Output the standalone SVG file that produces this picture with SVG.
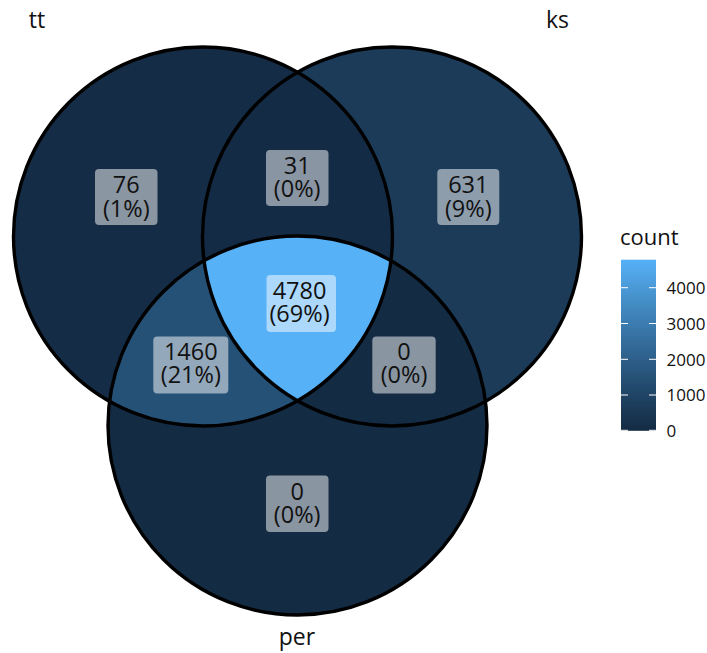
<svg xmlns="http://www.w3.org/2000/svg" width="707" height="653" viewBox="0 0 707 653">
  <style>
    .lbl { font-family: "Open Sans", "Noto Sans", "DejaVu Sans", sans-serif; font-size: 23.5px; fill: #111; text-anchor: middle; }
    .set { font-family: "Open Sans", "Noto Sans", "DejaVu Sans", sans-serif; font-size: 23px; fill: #111; text-anchor: middle; }
    .box { fill: #ffffff; fill-opacity: 0.5; }
    .edge { fill: none; stroke: #000; stroke-width: 3.4; }
    .tick { stroke: #ffffff; stroke-width: 1; }
    .leg { font-family: "Open Sans", "Noto Sans", "DejaVu Sans", sans-serif; font-size: 17px; fill: #111; }
    .legt { font-family: "Open Sans", "Noto Sans", "DejaVu Sans", sans-serif; font-size: 22px; fill: #111; }
  </style>
  <defs>
    <clipPath id="cTT"><circle cx="203" cy="236.5" r="189.5"/></clipPath>
    <clipPath id="cKS"><circle cx="392" cy="236.5" r="189.5"/></clipPath>
    <linearGradient id="grad" x1="0" y1="1" x2="0" y2="0">
      <stop offset="0" stop-color="#132B43"/>
      <stop offset="0.25" stop-color="#22496C"/>
      <stop offset="0.5" stop-color="#336A98"/>
      <stop offset="0.75" stop-color="#448DC6"/>
      <stop offset="1" stop-color="#56B1F7"/>
    </linearGradient>
  </defs>
  <rect width="707" height="653" fill="#ffffff"/>

  <g id="regions">
    <circle id="r-tt" cx="203" cy="236.5" r="189.5" fill="#142C45"/>
    <circle id="r-ks" cx="392" cy="236.5" r="189.5" fill="#1B3B58"/>
    <circle id="r-per" cx="297.5" cy="425.5" r="189.5" fill="#132B43"/>
    <circle id="r-tt-ks" cx="392" cy="236.5" r="189.5" fill="#132B44" clip-path="url(#cTT)"/>
    <circle id="r-tt-per" cx="297.5" cy="425.5" r="189.5" fill="#265176" clip-path="url(#cTT)"/>
    <circle id="r-ks-per" cx="297.5" cy="425.5" r="189.5" fill="#132B43" clip-path="url(#cKS)"/>
    <g clip-path="url(#cKS)">
      <circle id="r-all" cx="297.5" cy="425.5" r="189.5" fill="#56B1F7" clip-path="url(#cTT)"/>
    </g>
  </g>

  <g id="edges">
    <circle id="tt" class="edge" cx="203" cy="236.5" r="189.5"/>
    <circle id="ks" class="edge" cx="392" cy="236.5" r="189.5"/>
    <circle id="per" class="edge" cx="297.5" cy="425.5" r="189.5"/>
  </g>

  <g id="set-labels">
    <text class="set" x="37" y="28">tt</text>
    <text class="set" x="557.5" y="28">ks</text>
    <text class="set" x="297" y="645">per</text>
  </g>

  <g id="lab-tt">
    <rect class="box" x="95" y="169" width="62.5" height="56" rx="4"/>
    <text class="lbl" x="126.3" y="193.3">76</text>
    <text class="lbl" x="126.3" y="216.5">(1%)</text>
  </g>
  <g id="lab-tt-ks">
    <rect class="box" x="266" y="150" width="62.5" height="56" rx="4"/>
    <text class="lbl" x="297.2" y="174">31</text>
    <text class="lbl" x="297.2" y="197">(0%)</text>
  </g>
  <g id="lab-ks">
    <rect class="box" x="437.3" y="169" width="62" height="56" rx="4"/>
    <text class="lbl" x="468.3" y="193.3">631</text>
    <text class="lbl" x="468.3" y="216.5">(9%)</text>
  </g>
  <g id="lab-all">
    <rect class="box" x="266.5" y="275" width="69.5" height="57" rx="4"/>
    <text class="lbl" x="299.5" y="298.5">4780</text>
    <text class="lbl" x="299.5" y="321.7">(69%)</text>
  </g>
  <g id="lab-tt-per">
    <rect class="box" x="153.3" y="336.5" width="75" height="57" rx="4"/>
    <text class="lbl" x="190.8" y="360">1460</text>
    <text class="lbl" x="190.8" y="383.2">(21%)</text>
  </g>
  <g id="lab-ks-per">
    <rect class="box" x="372.3" y="336.5" width="63.4" height="57" rx="4"/>
    <text class="lbl" x="404" y="360">0</text>
    <text class="lbl" x="404" y="383.2">(0%)</text>
  </g>
  <g id="lab-per">
    <rect class="box" x="266" y="475.5" width="62.5" height="56.5" rx="4"/>
    <text class="lbl" x="297.2" y="499.5">0</text>
    <text class="lbl" x="297.2" y="522.7">(0%)</text>
  </g>

  <g id="legend">
    <text class="legt" x="620" y="245">count</text>
    <rect x="621" y="259.7" width="35" height="171.1" fill="url(#grad)"/>
    <line class="tick" x1="621" y1="287.7" x2="628" y2="287.7"/>
    <line class="tick" x1="649" y1="287.7" x2="656" y2="287.7"/>
    <line class="tick" x1="621" y1="323.5" x2="628" y2="323.5"/>
    <line class="tick" x1="649" y1="323.5" x2="656" y2="323.5"/>
    <line class="tick" x1="621" y1="359.3" x2="628" y2="359.3"/>
    <line class="tick" x1="649" y1="359.3" x2="656" y2="359.3"/>
    <line class="tick" x1="621" y1="395" x2="628" y2="395"/>
    <line class="tick" x1="649" y1="395" x2="656" y2="395"/>
    <line class="tick" x1="621" y1="430.3" x2="628" y2="430.3"/>
    <line class="tick" x1="649" y1="430.3" x2="656" y2="430.3"/>
    <text class="leg" x="666.5" y="293.5">4000</text>
    <text class="leg" x="666.5" y="329.5">3000</text>
    <text class="leg" x="666.5" y="365.5">2000</text>
    <text class="leg" x="666.5" y="401">1000</text>
    <text class="leg" x="666.5" y="437">0</text>
  </g>
</svg>
